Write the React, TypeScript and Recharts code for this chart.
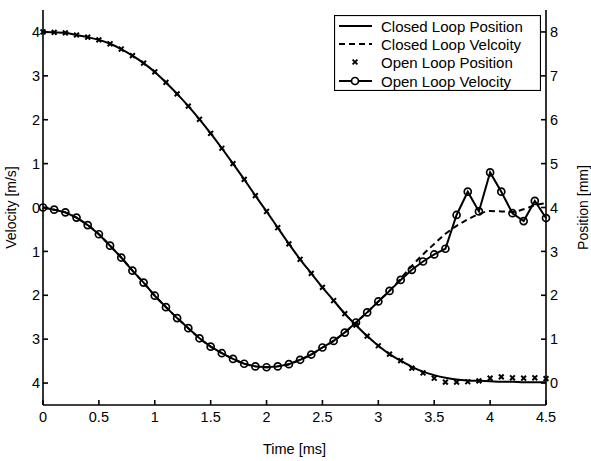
import React from 'react';
import { LineChart, Line, XAxis, YAxis } from 'recharts';

// time axis, sampled every 0.1 ms
const time = [
  0, 0.1, 0.2, 0.3, 0.4, 0.5, 0.6, 0.7, 0.8, 0.9,
  1.0, 1.1, 1.2, 1.3, 1.4, 1.5, 1.6, 1.7, 1.8, 1.9,
  2.0, 2.1, 2.2, 2.3, 2.4, 2.5, 2.6, 2.7, 2.8, 2.9,
  3.0, 3.1, 3.2, 3.3, 3.4, 3.5, 3.6, 3.7, 3.8, 3.9,
  4.0, 4.1, 4.2, 4.3, 4.4, 4.5,
];

// position [mm] (right axis)
const closedLoopPosition = [
  8.0, 7.99, 7.98, 7.93, 7.88, 7.82, 7.73, 7.61, 7.46, 7.29,
  7.09, 6.85, 6.59, 6.31, 6.01, 5.69, 5.35, 5.0, 4.64, 4.27,
  3.91, 3.54, 3.17, 2.82, 2.5, 2.18, 1.88, 1.58, 1.32, 1.07,
  0.85, 0.66, 0.51, 0.37, 0.26, 0.18, 0.12, 0.08, 0.06, 0.05,
  0.04, 0.03, 0.03, 0.02, 0.02, 0.02,
];
const openLoopPosition = [
  8.0, 7.99, 7.98, 7.93, 7.88, 7.82, 7.73, 7.61, 7.46, 7.29,
  7.09, 6.85, 6.59, 6.31, 6.01, 5.69, 5.35, 5.0, 4.64, 4.27,
  3.91, 3.54, 3.17, 2.82, 2.5, 2.18, 1.88, 1.58, 1.32, 1.07,
  0.85, 0.66, 0.51, 0.34, 0.23, 0.11, 0.02, 0.02, 0.03, 0.05,
  0.11, 0.14, 0.12, 0.11, 0.12, 0.1,
];

// velocity [m/s] (left axis)
const closedLoopVelocity = [
  0.0, -0.05, -0.11, -0.23, -0.4, -0.61, -0.87, -1.14, -1.44, -1.71,
  -2.01, -2.27, -2.52, -2.75, -2.98, -3.17, -3.32, -3.45, -3.56, -3.62,
  -3.64, -3.62, -3.57, -3.47, -3.35, -3.19, -3.04, -2.85, -2.62, -2.39,
  -2.14, -1.9, -1.62, -1.33, -1.07, -0.83, -0.6, -0.42, -0.27, -0.15,
  -0.08, -0.09, -0.1, -0.04, 0.05, 0.1,
];
const openLoopVelocity = [
  0.0, -0.05, -0.11, -0.23, -0.4, -0.61, -0.87, -1.14, -1.44, -1.71,
  -2.01, -2.27, -2.52, -2.75, -2.98, -3.17, -3.32, -3.45, -3.56, -3.62,
  -3.64, -3.62, -3.57, -3.47, -3.35, -3.19, -3.04, -2.85, -2.62, -2.39,
  -2.14, -1.9, -1.65, -1.42, -1.23, -1.07, -0.94, -0.17, 0.36, -0.09,
  0.8, 0.36, -0.13, -0.31, 0.15, -0.24,
];

const timeTicks = [0, 0.5, 1, 1.5, 2, 2.5, 3, 3.5, 4, 4.5];
const velocityTicks = [-4, -3, -2, -1, 0, 1, 2, 3, 4];
const positionTicks = [0, 1, 2, 3, 4, 5, 6, 7, 8];

const legendItems = [
  'Closed Loop Position',
  'Closed Loop Velcoity',
  'Open Loop Position',
  'Open Loop Velocity',
];

const data = time.map((t, i) => ({
  t,
  clPos: closedLoopPosition[i],
  clVel: closedLoopVelocity[i],
  olPos: openLoopPosition[i],
  olVel: openLoopVelocity[i],
}));

const font = 'Liberation Sans, Arial, sans-serif';
const tickStyle = { fontSize: 14.5, fill: '#000', fontFamily: font };

const CrossDot = (props: any) => {
  const { cx, cy } = props;
  if (cx == null || cy == null) return <g />;
  const s = 2.4;
  return (
    <path
      d={`M${cx - s},${cy - s}L${cx + s},${cy + s}M${cx - s},${cy + s}L${cx + s},${cy - s}`}
      stroke="#000"
      strokeWidth={2}
      fill="none"
    />
  );
};

const SideLabel = ({ viewBox, text, dx }: any) => {
  const x = viewBox.x + dx;
  const y = viewBox.y + viewBox.height / 2;
  return (
    <text
      x={x}
      y={y}
      transform={`rotate(-90, ${x}, ${y})`}
      textAnchor="middle"
      dominantBaseline="central"
      style={{ fontSize: 14, fontFamily: font, fill: '#000' }}
    >
      {text}
    </text>
  );
};

function ChartLegend() {
  const rowY = [11, 29, 47, 66];
  return (
    <svg
      width={207}
      height={76}
      style={{ position: 'absolute', left: 334, top: 15, background: '#fff' }}
    >
      <rect x={0.5} y={0.5} width={206} height={75} fill="#fff" stroke="#000" strokeWidth={1.2} />
      <line x1={5} x2={38} y1={rowY[0]} y2={rowY[0]} stroke="#000" strokeWidth={2} />
      <line x1={5} x2={38} y1={rowY[1]} y2={rowY[1]} stroke="#000" strokeWidth={2} strokeDasharray="6 4" />
      <CrossDot cx={21} cy={rowY[2]} />
      <line x1={5} x2={38} y1={rowY[3]} y2={rowY[3]} stroke="#000" strokeWidth={2} />
      <circle cx={21} cy={rowY[3]} r={3.5} stroke="#000" strokeWidth={1.7} fill="#fff" />
      {legendItems.map((label, i) => (
        <text
          key={label}
          x={47}
          y={rowY[i]}
          dominantBaseline="central"
          style={{ fontSize: 15, fontFamily: font, fill: '#000' }}
        >
          {label}
        </text>
      ))}
    </svg>
  );
}

export default function App() {
  return (
    <div style={{ position: 'absolute', left: 0, top: 0, width: 591, height: 461, background: '#fff' }}>
      <LineChart width={591} height={461} data={data} margin={{ top: 10, right: 0, bottom: 0, left: 0 }}>
        <XAxis
          xAxisId="bottom"
          dataKey="t"
          type="number"
          domain={[0, 4.5]}
          ticks={timeTicks}
          height={56}
          tick={tickStyle}
          tickSize={-5}
          tickMargin={12}
          stroke="#000"
          strokeWidth={1.6}
          label={{ value: 'Time [ms]', position: 'insideBottom', offset: 7, style: { fontSize: 14.5, fontFamily: font, fill: '#000' } }}
        />
        <XAxis
          xAxisId="top"
          orientation="top"
          dataKey="t"
          type="number"
          domain={[0, 4.5]}
          ticks={timeTicks}
          height={0}
          tickFormatter={() => ''}
          tickSize={-5}
          stroke="#000"
          strokeWidth={1.6}
        />
        <YAxis
          yAxisId="vel"
          orientation="left"
          type="number"
          domain={[-4.5, 4.5]}
          ticks={velocityTicks}
          width={43}
          tick={tickStyle}
          tickFormatter={(v: number) => String(Math.abs(v))}
          tickSize={-5}
          tickMargin={8}
          stroke="#000"
          strokeWidth={1.6}
          label={(p: any) => <SideLabel viewBox={p.viewBox} text="Velocity [m/s]" dx={11} />}
        />
        <YAxis
          yAxisId="pos"
          orientation="right"
          type="number"
          domain={[-0.5, 8.5]}
          ticks={positionTicks}
          width={45}
          tick={tickStyle}
          tickSize={-5}
          tickMargin={9}
          stroke="#000"
          strokeWidth={1.6}
          label={(p: any) => <SideLabel viewBox={p.viewBox} text="Position [mm]" dx={37} />}
        />
        <Line
          xAxisId="bottom"
          yAxisId="pos"
          dataKey="clPos"
          type="monotone"
          stroke="#000"
          strokeWidth={2}
          dot={false}
          isAnimationActive={false}
        />
        <Line
          xAxisId="bottom"
          yAxisId="vel"
          dataKey="clVel"
          type="monotone"
          stroke="#000"
          strokeWidth={2}
          strokeDasharray="6 4"
          dot={false}
          isAnimationActive={false}
        />
        <Line
          xAxisId="bottom"
          yAxisId="pos"
          dataKey="olPos"
          stroke="none"
          strokeWidth={0}
          dot={(p: any) => <CrossDot key={`x${p.index}`} cx={p.cx} cy={p.cy} />}
          isAnimationActive={false}
        />
        <Line
          xAxisId="bottom"
          yAxisId="vel"
          dataKey="olVel"
          type="linear"
          stroke="#000"
          strokeWidth={2}
          dot={{ r: 3.5, stroke: '#000', strokeWidth: 1.7, fill: 'none' }}
          isAnimationActive={false}
        />
      </LineChart>
      <ChartLegend />
    </div>
  );
}
